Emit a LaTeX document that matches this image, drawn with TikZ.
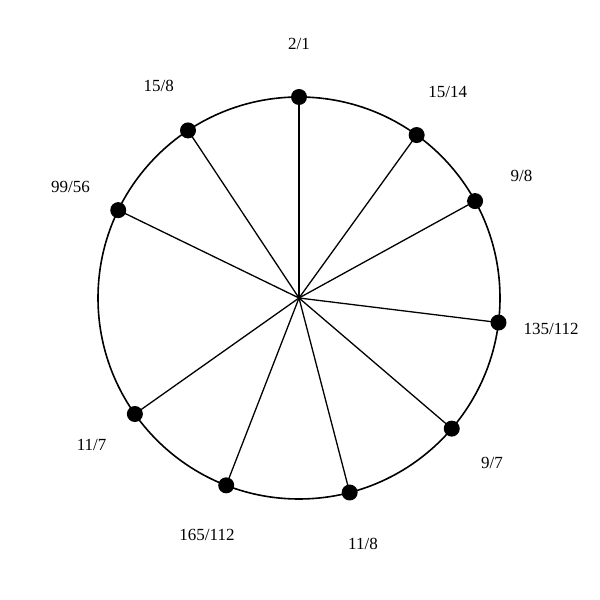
\documentclass[tikz,border=0pt]{standalone}
\usepackage{fontspec}
\setmainfont{Liberation Serif}
\begin{document}
\begin{tikzpicture}[x=1pt,y=1pt,
  dot/.style={circle,fill=black,inner sep=0pt,minimum size=16pt},
  lab/.style={font=\fontsize{17}{20}\selectfont,inner sep=0pt},
  spoke/.style={line width=1.3pt}]
\useasboundingbox (0,0) rectangle (600,600);
\coordinate (c) at (299,302);
\draw[line width=1.6pt] (c) circle (201);
\node[dot] (d1) at ([shift={(90:201)}]c) {};
\node[dot] (d2) at ([shift={(54.17:201)}]c) {};
\node[dot] (d3) at ([shift={(28.83:201)}]c) {};
\node[dot] (d4) at ([shift={(-7.01:201)}]c) {};
\node[dot] (d5) at ([shift={(-40.53:201)}]c) {};
\node[dot] (d6) at ([shift={(-75.40:201)}]c) {};
\node[dot] (d7) at ([shift={(-111.23:201)}]c) {};
\node[dot] (d8) at ([shift={(-144.75:201)}]c) {};
\node[dot] (d9) at ([shift={(154.08:201)}]c) {};
\node[dot] (d10) at ([shift={(123.52:201)}]c) {};
\foreach \i in {1,...,10} \draw[spoke] (c) -- (d\i.center);
\node[lab] (l1) at ([shift={(90:254)}]c) {2/1};
\node[lab] (l2) at ([shift={(54.17:254)}]c) {15/14};
\node[lab] (l3) at ([shift={(28.83:254)}]c) {9/8};
\node[lab] (l4) at ([shift={(-7.01:254)}]c) {135/112};
\node[lab] (l5) at ([shift={(-40.53:254)}]c) {9/7};
\node[lab] (l6) at ([shift={(-75.40:254)}]c) {11/8};
\node[lab] (l7) at ([shift={(-111.23:254)}]c) {165/112};
\node[lab] (l8) at ([shift={(-144.75:254)}]c) {11/7};
\node[lab] (l9) at ([shift={(154.08:254)}]c) {99/56};
\node[lab] (l10) at ([shift={(123.52:254)}]c) {15/8};
\end{tikzpicture}
\end{document}
